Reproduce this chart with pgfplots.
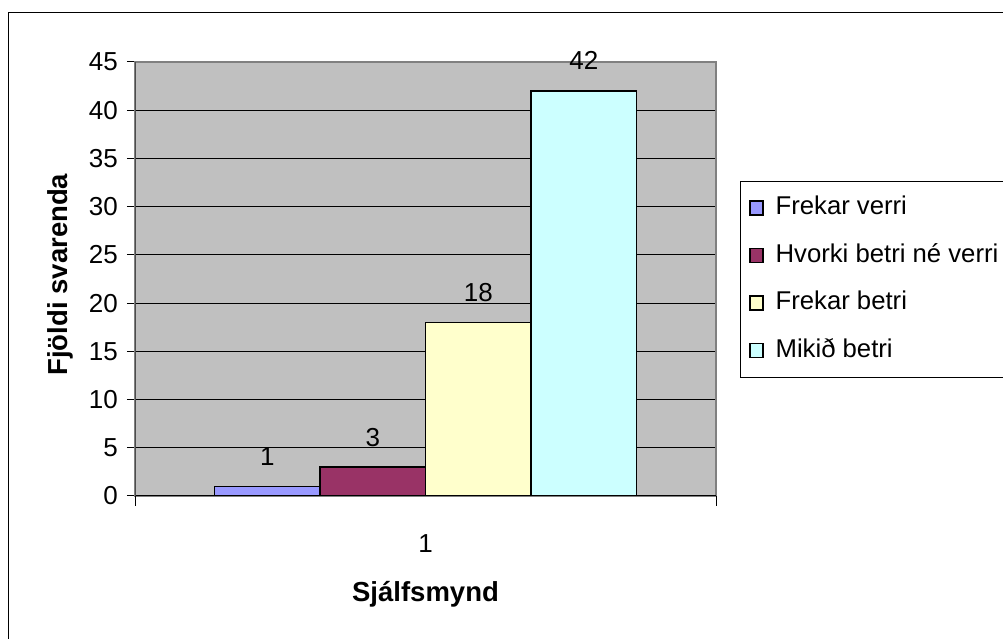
\documentclass[border=0pt]{standalone}
\usepackage{pgfplots}
\pgfplotsset{compat=1.18}
\usepackage{fontspec}
\setmainfont{Liberation Sans}

\definecolor{plotgray}{HTML}{C0C0C0}
\definecolor{bordergray}{HTML}{808080}
\definecolor{c1}{HTML}{9999FF}
\definecolor{c2}{HTML}{993366}
\definecolor{c3}{HTML}{FFFFCC}
\definecolor{c4}{HTML}{CCFFFF}

\begin{document}
\begin{tikzpicture}[x=1pt,y=1pt]
\begin{axis}[
    at={(135pt,143pt)}, anchor=south west,
    scale only axis,
    width=581pt, height=434pt,
    /pgf/number format/assume math mode=true,
    ybar, bar width=0.1816,
    xmin=0.5, xmax=1.5,
    ymin=0, ymax=45,
    ytick={0,5,...,45},
    xtick={1}, xticklabels={1},
    ytick pos=left, xtick pos=bottom,
    extra x ticks={0.5,1.5}, extra x tick labels={},
    extra x tick style={major tick length=10pt, grid=none,
        xtick style={draw=black, line width=1pt}},
    major tick length=8pt,
    xtick style={draw=none},
    ytick style={black, line width=1pt},
    tick align=outside,
    ymajorgrids=true,
    grid style={black, line width=0.9pt},
    axis background/.style={fill=plotgray},
    axis line style={bordergray, line width=1.6pt},
    tick label style={font=\fontsize{26}{30}\selectfont},
    yticklabel style={inner sep=0pt, xshift=-9pt},
    xticklabel style={inner sep=0pt, anchor=north, yshift=-30pt},
    xlabel={Sjálfsmynd},
    ylabel={Fjöldi svarenda},
    label style={font=\fontsize{27.5}{32}\selectfont\bfseries},
    xlabel style={at={(axis description cs:0.5,0)}, anchor=north, inner sep=0pt, yshift=-85pt},
    ylabel style={at={(axis description cs:-0.128,0.51)}, anchor=center, inner sep=0pt},
    nodes near coords,
    every node near coord/.append style={black, anchor=base, inner sep=0pt, yshift=21pt,
        font=\fontsize{26}{30}\selectfont},
    legend style={
        at={(axis description cs:1.0408,0.7258)}, anchor=north west,
        draw=black, line width=1.2pt, fill=white,
        inner xsep=9pt, inner ysep=12pt,
        row sep=18.5pt, column sep=9pt,
        nodes={inner sep=3pt, text height=18pt, text depth=5pt, anchor=west},
        font=\fontsize{25.7}{30}\selectfont,
        legend cell align=left,
    },
    legend image code/.code={\draw[#1, draw=black, line width=1.3pt] (0pt,-7pt) rectangle (13pt,7pt);},
]
\addplot[fill=c1, draw=black, line width=1.3pt, bar shift=-0.2724] coordinates {(1,1)};
\addplot[fill=c2, draw=black, line width=1.3pt, bar shift=-0.0908] coordinates {(1,3)};
\addplot[fill=c3, draw=black, line width=1.3pt, bar shift=0.0908] coordinates {(1,18)};
\addplot[fill=c4, draw=black, line width=1.3pt, bar shift=0.2724] coordinates {(1,42)};
\legend{Frekar verri, Hvorki betri né verri, Frekar betri, Mikið betri}
\draw[black, line width=1.3pt] (rel axis cs:0,0) -- (rel axis cs:1,0);
\draw[black!70, line width=1.6pt] (rel axis cs:0,0) -- (rel axis cs:0,1);
\end{axis}
\draw[black, line width=1.6pt] (8.5pt,-20pt) -- (8.5pt,626.5pt) -- (1030pt,626.5pt);
\pgfresetboundingbox
\useasboundingbox (0pt,0pt) rectangle (1003pt,639pt);
\end{tikzpicture}
\end{document}
